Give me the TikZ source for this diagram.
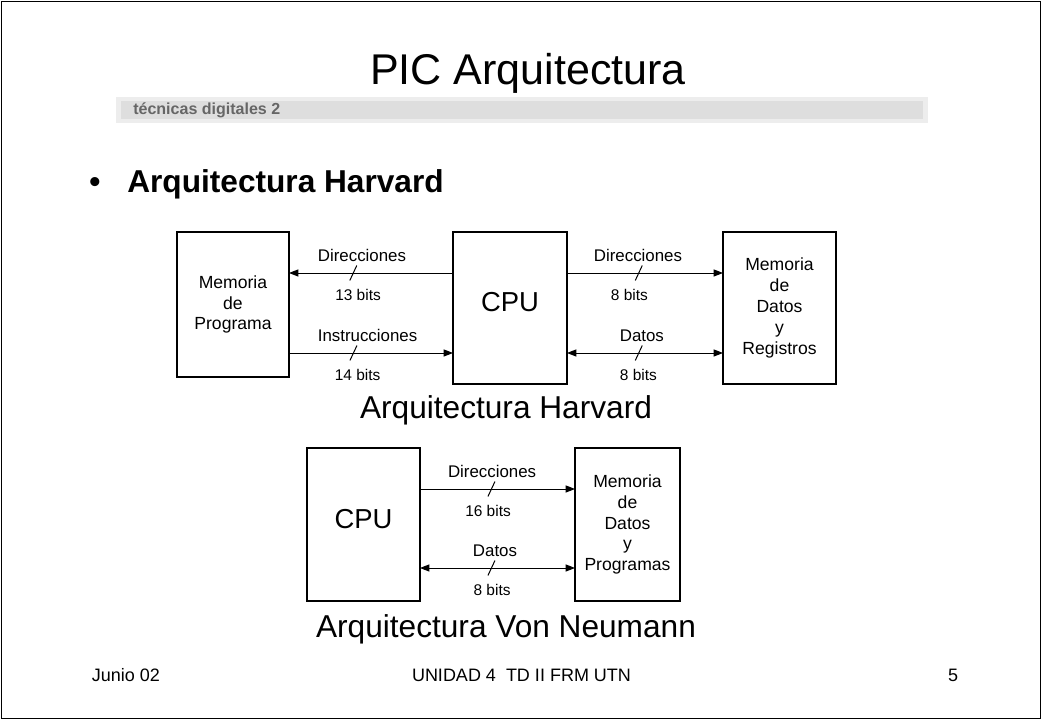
\documentclass[tikz,border=0pt]{standalone}
\usepackage{fontspec}
\setmainfont{Liberation Sans}
\usetikzlibrary{arrows.meta,positioning}
\begin{document}
\begin{tikzpicture}[x=0.025cm,y=-0.025cm,
  caja/.style={draw,line width=0.9pt,outer sep=0pt,inner sep=0pt,align=center,font=\fontsize{12.5}{14.8}\selectfont},
  cpu/.style={caja,text depth=8.5pt,font=\fontsize{19.5}{23}\selectfont},
  bus/.style={line width=0.7pt},
  arr/.style={-{Triangle[length=6.6pt,width=5pt]}},
  darr/.style={{Triangle[length=6.6pt,width=5pt]}-{Triangle[length=6.6pt,width=5pt]}},
  busname/.style={anchor=base,yshift=8pt,font=\fontsize{12}{14}\selectfont},
  buswidth/.style={anchor=base,yshift=-19.5pt,font=\fontsize{11}{13}\selectfont},
  caption/.style={anchor=base,font=\fontsize{22.5}{27}\selectfont},
  pie/.style={anchor=base,font=\fontsize{12.8}{15}\selectfont}]
\useasboundingbox (0,0) rectangle (1042,720);
\draw[line width=1pt] (1.5,1.5) rectangle (1040.5,718.5);
\node[anchor=base,font=\fontsize{30.6}{36}\selectfont] (titulo) at (528,85) {PIC Arquitectura};
\fill[gray!14] (116,97) rectangle (928,123);
\fill[gray!26] (121,101) rectangle (923,119);
\node[anchor=base west,inner sep=0pt,text=black!60,font=\bfseries\fontsize{11.4}{13}\selectfont] (banda) at (133,115) {técnicas digitales 2};
\node[anchor=base,inner sep=0pt,font=\bfseries\fontsize{22.5}{27}\selectfont] (vineta) at (95,193) {•};
\node[anchor=base west,inner sep=0pt,font=\bfseries\fontsize{22.5}{27}\selectfont] (tema) at (127,193) {Arquitectura Harvard};
\node[caja,minimum width=2.8cm,minimum height=3.625cm] (memp) at (233,304.5) {Memoria\\de\\Programa};
\node[cpu,minimum width=2.85cm,minimum height=3.8cm] (cpuh) at (510,308) {CPU};
\node[caja,minimum width=2.825cm,minimum height=3.8cm] (memd) at (779.5,308) {Memoria\\de\\Datos\\y\\Registros};
\node[caption] (caph) at (506,419) {Arquitectura Harvard};
\node[cpu,minimum width=2.825cm,minimum height=3.825cm] (cpuv) at (363.5,524.5) {CPU};
\node[caja,minimum width=2.625cm,minimum height=3.825cm] (memv) at (627.5,524.5) {Memoria\\de\\Datos\\y\\Programas};
\node[caption] (capv) at (506,638) {Arquitectura Von Neumann};
\coordinate (rowa) at (0,273);
\coordinate (rowb) at (0,353);
\coordinate (rowc) at (0,489);
\coordinate (rowd) at (0,568);
\draw[bus,arr] (cpuh.west |- rowa) -- (memp.east |- rowa) coordinate[pos=.608] (ta)
  node[pos=.555,busname]{Direcciones} node[pos=.579,buswidth]{13 bits};
\draw[bus,arr] (memp.east |- rowb) -- (cpuh.west |- rowb) coordinate[pos=.393] (tb)
  node[pos=.479,busname]{Instrucciones} node[pos=.418,buswidth]{14 bits};
\draw[bus,arr] (cpuh.east |- rowa) -- (memd.west |- rowa) coordinate[pos=.46] (tc)
  node[pos=.455,busname]{Direcciones} node[pos=.40,buswidth]{8 bits};
\draw[bus,darr] (cpuh.east |- rowb) -- (memd.west |- rowb) coordinate[pos=.46] (td)
  node[pos=.48,busname]{Datos} node[pos=.458,buswidth]{8 bits};
\draw[bus,arr] (cpuv.east |- rowc) -- (memv.west |- rowc) coordinate[pos=.461] (te)
  node[pos=.465,busname]{Direcciones} node[pos=.439,buswidth]{16 bits};
\draw[bus,darr] (cpuv.east |- rowd) -- (memv.west |- rowd) coordinate[pos=.461] (tf)
  node[pos=.484,busname]{Datos} node[pos=.465,buswidth]{8 bits};
\foreach \t in {ta,tb,tc,td,te,tf}
  \draw[bus] ([shift={(-3.5,7.5)}]\t) -- ([shift={(3.5,-7.5)}]\t);
\node[pie] (fecha) at (126,682) {Junio 02};
\node[pie] (unidad) at (521.5,682) {UNIDAD 4\ \ TD II FRM UTN};
\node[pie] (pagina) at (953,682) {5};
\end{tikzpicture}
\end{document}
